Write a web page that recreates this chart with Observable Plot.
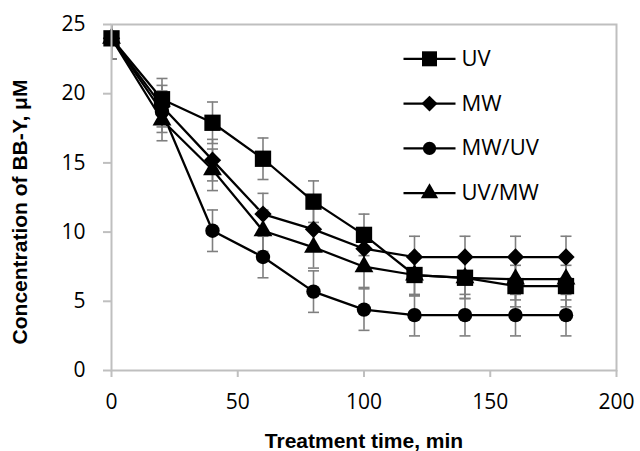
<!DOCTYPE html>
<html>
<head>
<meta charset="utf-8">
<script src="https://cdn.jsdelivr.net/npm/d3@7"></script>
<script src="https://cdn.jsdelivr.net/npm/@observablehq/plot@0.6"></script>
<style>
  html, body { margin: 0; padding: 0; background: #fff; }
</style>
</head>
<body>
<div id="chart"></div>
<script>
// ---- data ----
const times = [0, 20, 40, 60, 80, 100, 120, 140, 160, 180];
const seriesNames = ["UV", "MW", "MW/UV", "UV/MW"];
const uvValues   = [24.0, 19.6, 17.9, 15.3, 12.2, 9.8, 6.9, 6.7, 6.1, 6.1];
const mwValues   = [24.0, 19.1, 15.2, 11.3, 10.2, 8.8, 8.2, 8.2, 8.2, 8.2];
const mwuvValues = [24.0, 18.7, 10.1, 8.2, 5.7, 4.4, 4.0, 4.0, 4.0, 4.0];
const uvmwValues = [24.0, 18.1, 14.5, 10.1, 8.9, 7.5, 6.9, 6.7, 6.6, 6.6];
const uvErr   = [1.5, 1.5, 1.5, 1.5, 1.5, 1.5, 1.5, 1.5, 1.5, 1.5];
const mwErr   = [1.5, 1.5, 1.5, 1.5, 1.5, 1.5, 1.5, 1.5, 1.5, 1.5];
const mwuvErr = [1.5, 1.5, 1.5, 1.5, 1.5, 1.5, 1.5, 1.5, 1.5, 1.5];
const uvmwErr = [1.5, 1.5, 1.5, 1.5, 1.5, 1.5, 1.5, 1.5, 1.5, 1.5];
const xTicks = [0, 50, 100, 150, 200];
const yTicks = [0, 5, 10, 15, 20, 25];
const xLabel = "Treatment time, min";
const yLabel = "Concentration of BB-Y, μM";

// ---- styles ----
const symbols = {"UV": "square", "MW": "diamond2", "MW/UV": "circle", "UV/MW": "triangle"};
const radii   = {"UV": 9.2, "MW": 7.8, "MW/UV": 7.2, "UV/MW": 7.0};
const valuesBy = {"UV": uvValues, "MW": mwValues, "MW/UV": mwuvValues, "UV/MW": uvmwValues};
const errBy    = {"UV": uvErr, "MW": mwErr, "MW/UV": mwuvErr, "UV/MW": uvmwErr};

const rows = [];
seriesNames.forEach(s => times.forEach((t, i) => rows.push({series: s, t, v: valuesBy[s][i], e: errBy[s][i]})));

// horizontal line "symbols" of fixed pixel width
function hline(half) {
  return {draw(ctx) { ctx.moveTo(-half, 0); ctx.lineTo(half, 0); }};
}

const marks = [];
// data lines
seriesNames.forEach(s => {
  marks.push(Plot.line(rows.filter(d => d.series === s), {x: "t", y: "v", stroke: "black", strokeWidth: 2.25}));
});
// error bars
marks.push(Plot.ruleX(rows, {x: "t", y1: d => d.v - d.e, y2: d => d.v + d.e, stroke: "#7f7f7f", strokeWidth: 1.6, clip: true}));
marks.push(Plot.dot(rows, {x: "t", y: d => d.v + d.e, symbol: hline(5.5), stroke: "#7f7f7f", strokeWidth: 1.6, clip: true}));
marks.push(Plot.dot(rows, {x: "t", y: d => d.v - d.e, symbol: hline(5.5), stroke: "#7f7f7f", strokeWidth: 1.6, clip: true}));
// markers
seriesNames.forEach(s => {
  marks.push(Plot.dot(rows.filter(d => d.series === s), {x: "t", y: "v", symbol: symbols[s], r: radii[s], fill: "black", stroke: "none"}));
});
// legend (inside the frame, top right)
seriesNames.forEach((s, i) => {
  const dy = 34.3 + i * 44.8;
  marks.push(Plot.dot([s], {frameAnchor: "top-left", dx: 318, dy, symbol: hline(26), stroke: "black", strokeWidth: 2.25}));
  marks.push(Plot.dot([s], {frameAnchor: "top-left", dx: 318, dy, symbol: symbols[s], r: radii[s] * 0.92, fill: "black", stroke: "none"}));
  marks.push(Plot.text([s], {frameAnchor: "top-left", dx: 350, dy, text: d => d, textAnchor: "start", lineAnchor: "middle", fill: "black", fontSize: 22}));
});
// frame and axes
marks.push(Plot.frame({stroke: "#bfbfbf", strokeWidth: 2}));
marks.push(Plot.axisY({ticks: yTicks, tickSize: 8, tickPadding: 18, stroke: "#bfbfbf", strokeWidth: 2, label: null, fontSize: 21}));
marks.push(Plot.axisX({ticks: xTicks, tickSize: 7, tickPadding: 17, stroke: "#bfbfbf", strokeWidth: 2, label: null, fontSize: 21}));
// axis titles
marks.push(Plot.text([yLabel], {frameAnchor: "left", dx: -91, dy: 14.5, rotate: -90, text: d => d, textAnchor: "middle", fontWeight: "bold", fontSize: 21, fontFamily: "Liberation Sans", fill: "black", lineAnchor: "middle"}));
marks.push(Plot.text([xLabel], {frameAnchor: "bottom", dy: 71, text: d => d, textAnchor: "middle", fontWeight: "bold", fontSize: 21, fontFamily: "Liberation Sans", fill: "black", lineAnchor: "middle"}));

const chart = Plot.plot({
  width: 640,
  height: 451,
  marginLeft: 111,
  marginRight: 24,
  marginTop: 24,
  marginBottom: 81,
  style: {fontFamily: "'Open Sans', sans-serif", fontSize: "21px", color: "black", background: "white", overflow: "visible"},
  x: {domain: [0, 200]},
  y: {domain: [0, 25]},
  marks
});
document.getElementById("chart").appendChild(chart);
</script>
</body>
</html>
